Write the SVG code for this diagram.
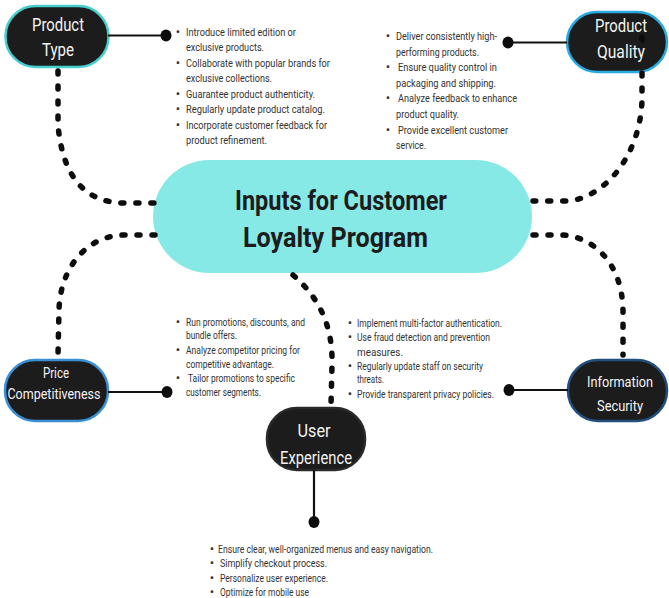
<svg xmlns="http://www.w3.org/2000/svg" width="669" height="598" viewBox="0 0 669 598">
  <style>
    .bg { fill: #ffffff; }
    .node rect { fill: #1c1c1c; stroke-width: 2.5; }
    .label { font-family: Roboto, "Liberation Sans", sans-serif; font-size: 18px; fill: #f4f4f4; text-anchor: middle; }
    .label.sm { font-size: 15px; }
    .hub rect { fill: #86e9e6; }
    .title { font-family: Roboto, "Liberation Sans", sans-serif; font-weight: 700; font-size: 28px; fill: #1c1c1c; }
    .item { font-family: Roboto, "Liberation Sans", sans-serif; font-size: 10.5px; fill: #333333; }
    .dot { font-family: Roboto, "Liberation Sans", sans-serif; font-size: 13px; fill: #333333; text-anchor: middle; }
    .dotted { fill: none; stroke: #0d0d0d; stroke-width: 5.5; stroke-linecap: round; stroke-dasharray: 3 12; }
    .stem { fill: none; stroke: #111111; stroke-width: 2.2; }
    .end { fill: #0d0d0d; }
  </style>

  <rect class="bg" x="0" y="0" width="669" height="598"/>

  <!-- central hub -->
  <g id="hub" class="hub">
    <rect x="153" y="160" width="379" height="113" rx="56.5"/>
    <text class="title" x="235" y="210" textLength="212" lengthAdjust="spacingAndGlyphs">Inputs for Customer</text>
    <text class="title" x="243" y="247" textLength="185" lengthAdjust="spacingAndGlyphs">Loyalty Program</text>
  </g>

  <!-- Product Type -->
  <g id="product-type" class="node">
    <rect x="5.5" y="6" width="103" height="61" rx="30" stroke="#47cfd0"/>
    <text class="label" x="58" y="31" textLength="52" lengthAdjust="spacingAndGlyphs">Product</text>
    <text class="label" x="58" y="56" textLength="32" lengthAdjust="spacingAndGlyphs">Type</text>
  </g>
  <g id="product-type-notes">
    <text class="dot" x="178" y="36">•</text>
    <text class="item" x="186" y="35.5" textLength="110" lengthAdjust="spacingAndGlyphs">Introduce limited edition or</text>
    <text class="item" x="186" y="50.5" textLength="78" lengthAdjust="spacingAndGlyphs">exclusive products.</text>
    <text class="dot" x="178" y="67">•</text>
    <text class="item" x="186" y="66.5" textLength="144" lengthAdjust="spacingAndGlyphs">Collaborate with popular brands for</text>
    <text class="item" x="186" y="81.5" textLength="86" lengthAdjust="spacingAndGlyphs">exclusive collections.</text>
    <text class="dot" x="178" y="98">•</text>
    <text class="item" x="186" y="97.5" textLength="129" lengthAdjust="spacingAndGlyphs">Guarantee product authenticity.</text>
    <text class="dot" x="178" y="113">•</text>
    <text class="item" x="186" y="112.5" textLength="139" lengthAdjust="spacingAndGlyphs">Regularly update product catalog.</text>
    <text class="dot" x="178" y="129">•</text>
    <text class="item" x="186" y="128.5" textLength="141" lengthAdjust="spacingAndGlyphs">Incorporate customer feedback for</text>
    <text class="item" x="186" y="143.5" textLength="81" lengthAdjust="spacingAndGlyphs">product refinement.</text>
  </g>

  <!-- Product Quality -->
  <g id="product-quality" class="node">
    <rect x="567" y="12" width="100" height="60" rx="30" stroke="#29abe2"/>
    <text class="label" x="621" y="32" textLength="52" lengthAdjust="spacingAndGlyphs">Product</text>
    <text class="label" x="621" y="58" textLength="48" lengthAdjust="spacingAndGlyphs">Quality</text>
  </g>
  <g id="product-quality-notes">
    <text class="dot" x="388" y="40">•</text>
    <text class="item" x="396" y="39.5" textLength="101" lengthAdjust="spacingAndGlyphs">Deliver consistently high-</text>
    <text class="item" x="396" y="55.5" textLength="83" lengthAdjust="spacingAndGlyphs">performing products.</text>
    <text class="dot" x="388" y="71">•</text>
    <text class="item" x="398" y="70.5" textLength="99" lengthAdjust="spacingAndGlyphs">Ensure quality control in</text>
    <text class="item" x="396" y="86.5" textLength="100" lengthAdjust="spacingAndGlyphs">packaging and shipping.</text>
    <text class="dot" x="388" y="102">•</text>
    <text class="item" x="398" y="101.5" textLength="119" lengthAdjust="spacingAndGlyphs">Analyze feedback to enhance</text>
    <text class="item" x="396" y="117.5" textLength="63" lengthAdjust="spacingAndGlyphs">product quality.</text>
    <text class="dot" x="388" y="134">•</text>
    <text class="item" x="398" y="133.5" textLength="110" lengthAdjust="spacingAndGlyphs">Provide excellent customer</text>
    <text class="item" x="396" y="148.5" textLength="30" lengthAdjust="spacingAndGlyphs">service.</text>
  </g>

  <!-- Price Competitiveness -->
  <g id="price-competitiveness" class="node">
    <rect x="5" y="360" width="103" height="61" rx="30" stroke="#3b8fd5"/>
    <text class="label sm" x="56" y="378" textLength="26" lengthAdjust="spacingAndGlyphs">Price</text>
    <text class="label sm" x="54" y="399" textLength="93" lengthAdjust="spacingAndGlyphs">Competitiveness</text>
  </g>
  <g id="price-competitiveness-notes">
    <text class="dot" x="178" y="326">•</text>
    <text class="item" x="186" y="325.5" textLength="119" lengthAdjust="spacingAndGlyphs">Run promotions, discounts, and</text>
    <text class="item" x="186" y="339" textLength="51" lengthAdjust="spacingAndGlyphs">bundle offers.</text>
    <text class="dot" x="178" y="354">•</text>
    <text class="item" x="186" y="353.5" textLength="114" lengthAdjust="spacingAndGlyphs">Analyze competitor pricing for</text>
    <text class="item" x="186" y="367.5" textLength="88" lengthAdjust="spacingAndGlyphs">competitive advantage.</text>
    <text class="dot" x="178" y="382">•</text>
    <text class="item" x="188" y="381.5" textLength="107" lengthAdjust="spacingAndGlyphs">Tailor promotions to specific</text>
    <text class="item" x="186" y="395.5" textLength="75" lengthAdjust="spacingAndGlyphs">customer segments.</text>
  </g>

  <!-- Information Security -->
  <g id="information-security" class="node">
    <rect x="568" y="360" width="99" height="61" rx="30" stroke="#234f7e"/>
    <text class="label sm" x="620" y="387" textLength="66" lengthAdjust="spacingAndGlyphs">Information</text>
    <text class="label sm" x="620" y="411" textLength="46" lengthAdjust="spacingAndGlyphs">Security</text>
  </g>
  <g id="information-security-notes">
    <text class="dot" x="350" y="327">•</text>
    <text class="item" x="357" y="326.5" textLength="145" lengthAdjust="spacingAndGlyphs">Implement multi-factor authentication.</text>
    <text class="dot" x="350" y="341">•</text>
    <text class="item" x="357" y="340.5" textLength="133" lengthAdjust="spacingAndGlyphs">Use fraud detection and prevention</text>
    <text class="item" x="357" y="355.5" textLength="46" lengthAdjust="spacingAndGlyphs">measures.</text>
    <text class="dot" x="350" y="370">•</text>
    <text class="item" x="357" y="369.5" textLength="126" lengthAdjust="spacingAndGlyphs">Regularly update staff on security</text>
    <text class="item" x="357" y="382.5" textLength="27" lengthAdjust="spacingAndGlyphs">threats.</text>
    <text class="dot" x="350" y="398">•</text>
    <text class="item" x="357" y="397.5" textLength="137" lengthAdjust="spacingAndGlyphs">Provide transparent privacy policies.</text>
  </g>

  <!-- User Experience -->
  <g id="user-experience" class="node">
    <rect x="267" y="408" width="98" height="62" rx="30" stroke="#2a2a2a"/>
    <text class="label" x="314" y="437" textLength="33" lengthAdjust="spacingAndGlyphs">User</text>
    <text class="label" x="316" y="464" textLength="72" lengthAdjust="spacingAndGlyphs">Experience</text>
  </g>
  <g id="user-experience-notes">
    <text class="dot" x="212" y="553">•</text>
    <text class="item" x="218" y="552.5" textLength="215" lengthAdjust="spacingAndGlyphs">Ensure clear, well-organized menus and easy navigation.</text>
    <text class="dot" x="212" y="567">•</text>
    <text class="item" x="220" y="566.5" textLength="107" lengthAdjust="spacingAndGlyphs">Simplify checkout process.</text>
    <text class="dot" x="212" y="582">•</text>
    <text class="item" x="220" y="581.5" textLength="108" lengthAdjust="spacingAndGlyphs">Personalize user experience.</text>
    <text class="dot" x="212" y="596">•</text>
    <text class="item" x="220" y="595.5" textLength="89" lengthAdjust="spacingAndGlyphs">Optimize for mobile use</text>
  </g>

  <!-- connectors: dotted links to the hub, solid stems to the notes -->
  <g id="connectors">
    <path class="dotted" d="M 58 71 L 58 125 C 62 170, 80 203, 125 203 L 155 203"/>
    <path class="dotted" d="M 642 37 L 642 40 M 642 73 L 642 100 C 640 160, 600 201, 565 201 L 533 201"/>
    <path class="dotted" d="M 533 235 L 560 235 C 590 235, 622 260, 623 310 L 623 355"/>
    <path class="dotted" d="M 155 235 L 125 235 C 85 235, 60 270, 59 310 L 58 355"/>
    <path class="dotted" d="M 293 275 C 322 300, 333 330, 332 365 L 331 405"/>

    <path class="stem" d="M 108 35.5 L 165 35.5"/>
    <ellipse class="end" cx="166" cy="35.5" rx="5.5" ry="6"/>
    <path class="stem" d="M 508 42.5 L 567 42.5"/>
    <ellipse class="end" cx="508" cy="42.5" rx="5.5" ry="6"/>
    <path class="stem" d="M 108 392 L 166 392"/>
    <ellipse class="end" cx="167" cy="392" rx="5.5" ry="6"/>
    <path class="stem" d="M 509 390 L 568 390"/>
    <ellipse class="end" cx="509" cy="390" rx="5.5" ry="6"/>
    <path class="stem" d="M 314 470 L 314 521"/>
    <ellipse class="end" cx="314" cy="522" rx="5.5" ry="6"/>
  </g>
</svg>
